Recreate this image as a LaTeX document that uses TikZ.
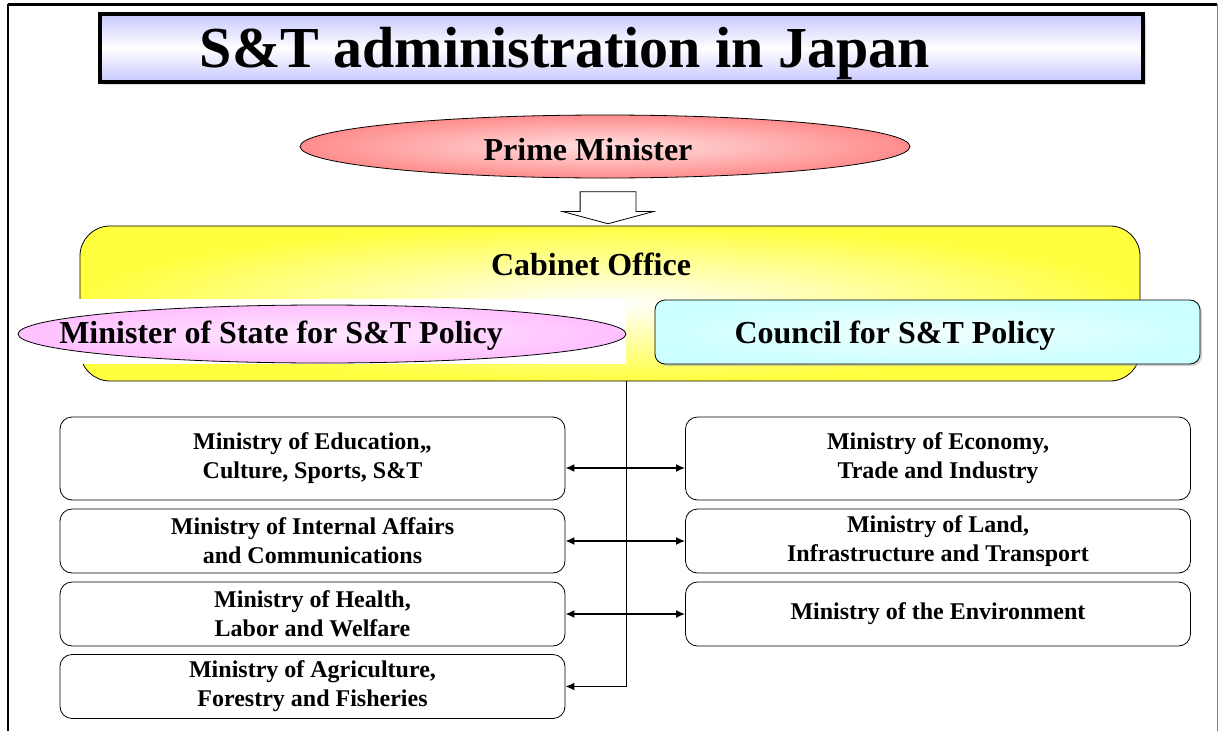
\documentclass[tikz,border=0pt]{standalone}
\usepackage{fontspec}
\setmainfont{Liberation Serif}
\usetikzlibrary{arrows.meta,positioning,shapes.geometric,shapes.arrows,shadows}

\begin{document}
\begin{tikzpicture}[
  x=1pt, y=-1pt,
  bigtxt/.style={font=\fontsize{32}{38}\selectfont\bfseries, inner sep=0pt},
  titlebox/.style={draw, line width=4pt, minimum width=1043pt, minimum height=68pt, inner sep=0pt,
    top color=blue!22, bottom color=blue!22, middle color=white,
    drop shadow={shadow xshift=3pt, shadow yshift=-3pt, fill=gray!60}},
  pmell/.style={ellipse, draw, line width=0.8pt, minimum width=610pt, minimum height=63pt, inner sep=0pt,
    inner color=red!12, outer color=red!45},
  cabbox/.style={draw, line width=0.8pt, rounded corners=30pt, minimum width=1060pt, minimum height=155pt, inner sep=0pt,
    inner color=white, outer color=yellow!75},
  mstell/.style={ellipse, draw, line width=0.8pt, minimum width=608pt, minimum height=58pt, inner sep=0pt,
    inner color=magenta!8, outer color=magenta!25},
  cspbox/.style={draw, line width=0.8pt, rounded corners=10pt, minimum width=545pt, minimum height=64pt, inner sep=0pt,
    inner color=cyan!5, outer color=cyan!20,
    drop shadow={shadow xshift=2pt, shadow yshift=-2pt, fill=gray!70}},
  minbox/.style={draw, line width=0.8pt, rounded corners=12pt, minimum width=505pt, minimum height=64pt, inner sep=0pt,
    align=center, font=\fontsize{24}{29}\selectfont\bfseries},
  hollow/.style={single arrow, draw, line width=0.8pt, fill=white, rotate=-90, inner xsep=0pt, inner ysep=27.5pt,
    minimum height=32pt, single arrow head extend=17.5pt, single arrow tip angle=150, single arrow head indent=0pt},
  arr/.style={{Latex[length=9pt,width=8pt]}-{Latex[length=9pt,width=8pt]}, line width=1.6pt},
  onearr/.style={-{Latex[length=9pt,width=8pt]}, line width=1.6pt},
]
\useasboundingbox (0,0) rectangle (1221,731);

% page frame
\draw[line width=3pt] (8,4) -- (1217,4);
\draw[line width=1.2pt] (8,4) -- (8,731);
\draw[line width=1pt, gray] (1217,4) -- (1217,731);

% title
\node[titlebox] (ttl) at (621.5,48) {};
\node[font=\fontsize{58}{64}\selectfont\bfseries, inner sep=0pt] (ttltxt) at (565,54) {S\&T administration in Japan};

% prime minister
\node[pmell] (pm) at (605,146.5) {};
\node[bigtxt] (pmtxt) at (588,150) {Prime Minister};
\node[hollow] (down) at (608,204) {};

% cabinet office
\node[cabbox] (cab) at (610,303.5) {};
\node[bigtxt] (cabtxt) at (591,264) {Cabinet Office};
\fill[white] (60,299) rectangle (626,364);
\node[mstell] (mst) at (322,334) {};
\node[bigtxt] (msttxt) at (281,336) {Minister of State for S\&T Policy};
\node[cspbox] (csp) at (927.5,332) {};
\node[bigtxt] (csptxt) at (895,336) {Council for S\&T Policy};

% ministries
\node[minbox, minimum height=83pt] (edu) at (312.5,458.5) {Ministry of Education,,\\Culture, Sports, S\&T};
\node[minbox] (mic) at (312.5,541) {Ministry of Internal Affairs\\and Communications};
\node[minbox] (hlw) at (312.5,614) {Ministry of Health,\\Labor and Welfare};
\node[minbox] (agr) at (312.5,686.5) {Ministry of Agriculture,\\Forestry and Fisheries};

\node[minbox, minimum height=83pt] (eco) at (938,458.5) {Ministry of Economy,\\Trade and Industry};
\node[minbox] (lit) at (938,541) {Ministry of Land,\\Infrastructure and Transport};
\node[minbox] (env) at (938,614) {Ministry of the Environment};

\draw[line width=1.2pt] (mst.east |- cab.south) -- (mst.east |- agr.east);
\draw[onearr] (mst.east |- agr.east) -- (agr.east);
\draw[arr] ([yshift=-9.5pt]edu.east) -- ([yshift=-9.5pt]eco.west);
\draw[arr] (mic) -- (lit);
\draw[arr] (hlw) -- (env);
\end{tikzpicture}
\end{document}
